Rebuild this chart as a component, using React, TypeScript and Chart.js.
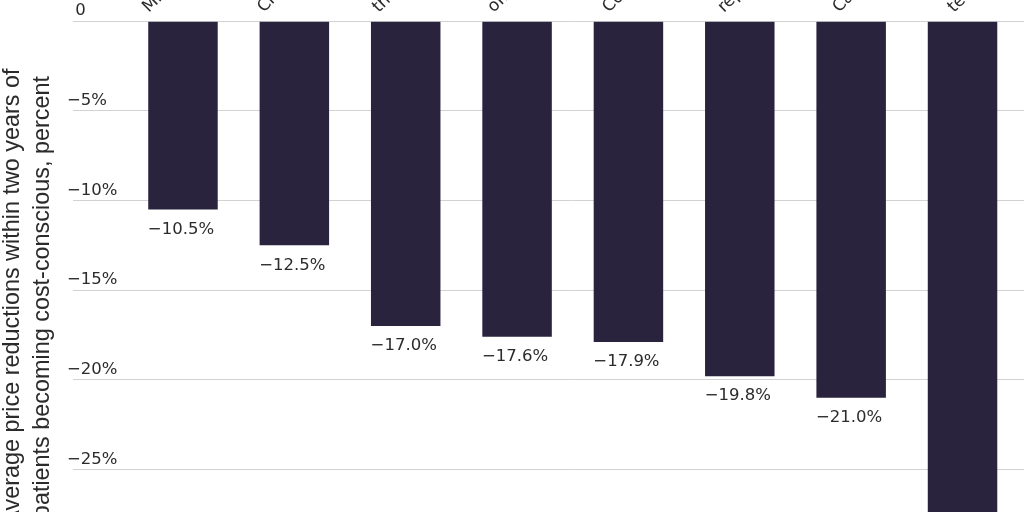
import React, { useEffect, useRef } from "react";
import { Chart, registerables } from "chart.js";

Chart.register(...registerables);

// ---- data ----
const categories = [
  "MRI scan",
  "Chest CT scan",
  "therapy session",
  "office visit",
  "Colonoscopy",
  "replacement surgery",
  "Cataract removal",
  "test panel",
];
const priceChange = [-10.5, -12.5, -17.0, -17.6, -17.9, -19.8, -21.0, -29.0];
const yTickValues = [0, -5, -10, -15, -20, -25, -30];
const yTitle = [
  "Average price reductions within two years of",
  "patients becoming cost-conscious, percent",
];

const MINUS = "\u2212";
const fmtTick = (v: number) => (v === 0 ? "\u20020" : MINUS + Math.abs(v) + "%");
const fmtLabel = (v: number) => (v < 0 ? MINUS : "") + Math.abs(v).toFixed(1) + "%";

const BAR_COLOR = "#29233e";
const GRID_COLOR = "#d2d2d2";
const TEXT_COLOR = "#2b2b2b";
const FONT = "'DejaVu Sans', 'Liberation Sans', sans-serif";
const LABEL_DRIFT = 3.68; // extra horizontal spacing of the rotated category labels

const barLabels = {
  id: "barLabels",
  beforeDraw(chart: any) {
    const xs = chart.scales.x;
    const items = xs.getLabelItems();
    if (!xs._driftApplied) {
      items.forEach((it: any, i: number) => {
        it.options.translation[0] += LABEL_DRIFT * i;
      });
      xs._driftApplied = true;
    }
  },
  afterDatasetsDraw(chart: any) {
    const ctx = chart.ctx;
    const meta = chart.getDatasetMeta(0);
    const values = chart.data.datasets[0].data as number[];
    ctx.save();
    ctx.font = `16.5px ${FONT}`;
    ctx.fillStyle = TEXT_COLOR;
    ctx.textAlign = "center";
    ctx.textBaseline = "middle";
    meta.data.forEach((bar: any, i: number) => {
      ctx.fillText(fmtLabel(values[i]), bar.x - 2, bar.y + 20);
    });
    ctx.restore();
  },
};

export default function App() {
  const ref = useRef<HTMLCanvasElement | null>(null);

  useEffect(() => {
    if (!ref.current) return;
    const chart = new Chart(ref.current, {
      type: "bar",
      data: {
        labels: categories,
        datasets: [
          {
            data: priceChange,
            backgroundColor: BAR_COLOR,
            borderWidth: 0,
            barPercentage: 0.624,
            categoryPercentage: 1,
          },
        ],
      },
      options: {
        animation: false,
        responsive: false,
        maintainAspectRatio: false,
        devicePixelRatio: 1,
        layout: { padding: 0 },
        plugins: {
          legend: { display: false },
          tooltip: { enabled: false },
        },
        scales: {
          x: {
            type: "category",
            position: "top",
            grid: { display: false, drawTicks: false },
            border: { display: false },
            ticks: {
              autoSkip: false,
              minRotation: 45,
              maxRotation: 45,
              padding: 4,
              labelOffset: -23,
              color: TEXT_COLOR,
              font: { family: FONT, size: 17 },
            },
            afterFit: (s: any) => {
              s.height = 21.2;
              s.paddingLeft = 0;
              s.paddingRight = 0;
              s.paddingTop = 0;
              s.paddingBottom = 0;
            },
          },
          y: {
            type: "linear",
            position: "left",
            min: -30.78,
            max: 0,
            afterBuildTicks: (s: any) => {
              s.ticks = yTickValues.map((v) => ({ value: v }));
            },
            grid: {
              color: GRID_COLOR,
              lineWidth: 1,
              drawTicks: true,
              tickLength: 54.3,
            },
            border: { display: false },
            ticks: {
              mirror: true,
              crossAlign: "near",
              padding: -60.3,
              labelOffset: -10,
              color: TEXT_COLOR,
              font: { family: FONT, size: 16.5 },
              callback: (v: any) => fmtTick(Number(v)),
            },
            title: {
              display: true,
              text: yTitle,
              color: TEXT_COLOR,
              font: { family: "'Liberation Sans', Arial, sans-serif", size: 23.4, lineHeight: 1.28 },
              padding: { top: 17.4, bottom: 0 },
            },
            afterFit: (s: any) => {
              s.width = 147.3;
              s.paddingLeft = 0;
              s.paddingRight = 0;
              s.paddingTop = 0;
              s.paddingBottom = 0;
            },
          },
          y2: {
            type: "linear",
            position: "right",
            min: -30.78,
            max: 0,
            afterBuildTicks: (s: any) => {
              s.ticks = yTickValues.map((v) => ({ value: v }));
            },
            grid: {
              color: GRID_COLOR,
              lineWidth: 1,
              drawOnChartArea: false,
              drawTicks: true,
              tickLength: 31.8,
            },
            border: { display: false },
            ticks: { display: false },
            afterFit: (s: any) => {
              s.width = 31.8;
              s.paddingLeft = 0;
              s.paddingRight = 0;
              s.paddingTop = 0;
              s.paddingBottom = 0;
            },
          },
        },
      },
      plugins: [barLabels],
    } as any);
    return () => chart.destroy();
  }, []);

  return (
    <div
      style={{
        position: "fixed",
        left: 0,
        top: 0,
        width: 1024,
        height: 512,
        overflow: "hidden",
        background: "#ffffff",
      }}
    >
      <canvas
        ref={ref}
        width={1070}
        height={573}
        style={{ position: "absolute", left: -20, top: 0, width: 1070, height: 573 }}
      />
    </div>
  );
}
